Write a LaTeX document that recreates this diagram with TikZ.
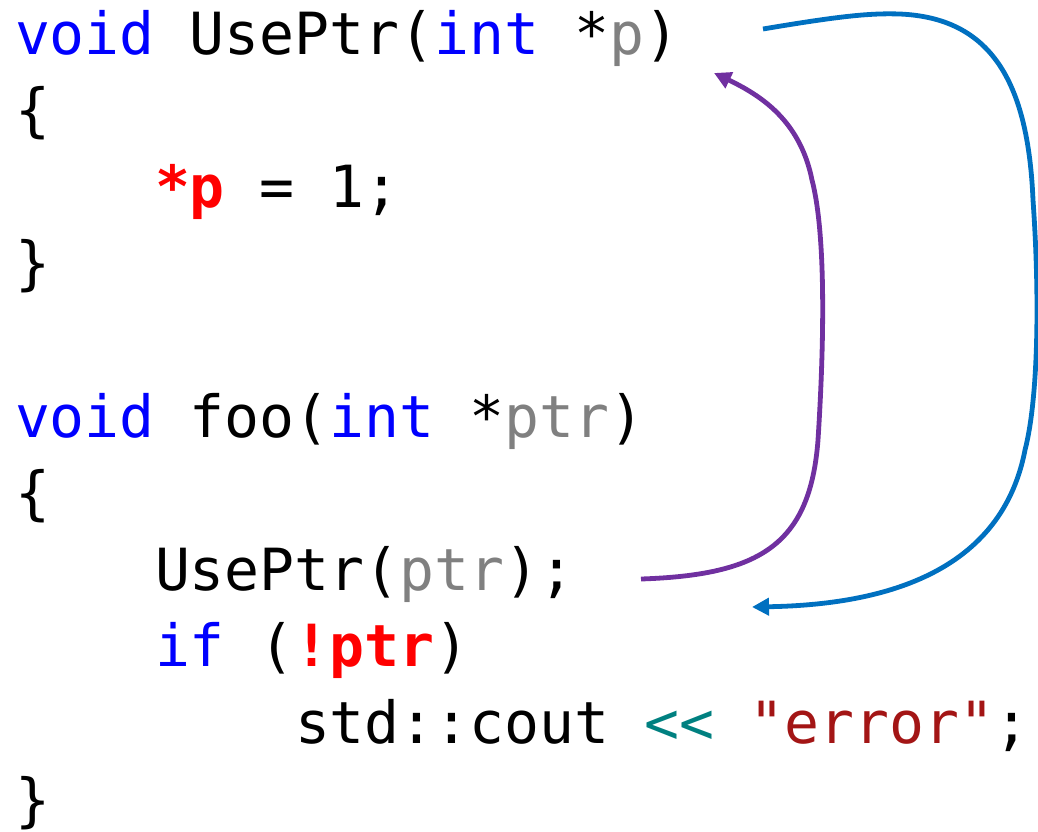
\documentclass[tikz,border=0pt]{standalone}
\usepackage{fontspec}
\usetikzlibrary{arrows.meta}
\newfontfamily\codefont{DejaVu Sans Mono}
\definecolor{kw}{RGB}{0,0,255}
\definecolor{prm}{RGB}{128,128,128}
\definecolor{hot}{RGB}{255,0,0}
\definecolor{op}{RGB}{0,128,128}
\definecolor{str}{RGB}{163,21,21}
\definecolor{arrblue}{RGB}{0,112,192}
\definecolor{arrpurple}{RGB}{112,48,160}
\tikzset{
  codeline/.style={inner sep=0pt, outer sep=0pt, anchor=base west,
    font=\codefont\fontsize{58.1pt}{70pt}\selectfont},
  flow/.style={line width=4.8pt, -{Triangle[length=17pt,width=17pt]}}
}
\newcommand{\K}[1]{\textcolor{kw}{#1}}
\newcommand{\G}[1]{\textcolor{prm}{#1}}
\newcommand{\R}[1]{\textcolor{hot}{\bfseries #1}}
\begin{document}
\begin{tikzpicture}[x=1pt,y=-1pt]
\useasboundingbox (0,0) rectangle (1038,831);
\node[codeline] (l0) at (15,54) {\K{void} UsePtr(\K{int} *\G{p})};
\node[codeline] (l1) at (15,130.6) {\{};
\node[codeline] (l2) at (155,207.2) {\R{*p} = 1;};
\node[codeline] (l3) at (15,283.8) {\}};
\node[codeline] (l5) at (15,437) {\K{void} foo(\K{int} *\G{ptr})};
\node[codeline] (l6) at (15,513.6) {\{};
\node[codeline] (l7) at (155,590.2) {UsePtr(\G{ptr});};
\node[codeline] (l8) at (155,666.8) {\K{if} (\R{!ptr})};
\node[codeline] (l9) at (295,743.4) {std::cout \textcolor{op}{<<} \textcolor{str}{"error"};};
\node[codeline] (l10) at (15,820) {\}};
% connector ends
\coordinate (bstart) at (763,29);
\coordinate (bend) at (752,607);
\coordinate (pstart) at (641,579);
\coordinate (pend) at (714,73);
\draw[flow, arrblue] (bstart)
  .. controls (840,16) and (870,13) .. (900,14)
  .. controls (990,18) and (1028,80) .. (1033,200)
  .. controls (1040,300) and (1038,400) .. (1025,450)
  .. controls (1000,580) and (870,605) .. (bend);
\draw[flow, arrpurple] (pstart)
  .. controls (760,575) and (810,545) .. (818,440)
  .. controls (825,330) and (825,230) .. (812,180)
  .. controls (800,120) and (760,95) .. (pend);
\end{tikzpicture}
\end{document}
